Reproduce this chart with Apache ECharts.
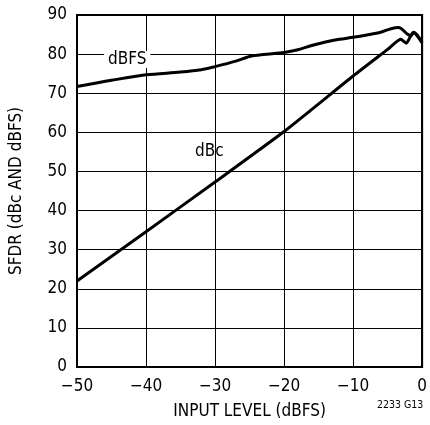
<!DOCTYPE html>
<html>
<head>
<meta charset="utf-8">
<script src="https://cdn.jsdelivr.net/npm/echarts@6/dist/echarts.min.js"></script>
<style>
  html, body { margin: 0; padding: 0; background: #fff; }
  #chart { width: 430px; height: 425px; }
</style>
</head>
<body>
<div id="chart"></div>
<script>
// x ticks / y ticks
var xTicks = [-50, -40, -30, -20, -10, 0];
var yTicks = [0, 10, 20, 30, 40, 50, 60, 70, 80, 90];

// dBFS curve
var dbfsX = [-50, -45, -40, -35, -32, -30, -27, -25, -23, -20, -18, -16, -14, -12, -10, -8, -6, -4.5, -3.4, -2.8, -2.2, -1.6, -1.2, 0];
var dbfsY = [71.7, 73.3, 74.7, 75.4, 76.0, 76.8, 78.2, 79.4, 79.9, 80.4, 81.1, 82.2, 83.1, 83.8, 84.3, 84.9, 85.6, 86.5, 86.8, 86.2, 85.2, 84.7, 85.6, 82.9];

// dBc curve
var dbcX = [-50, -40, -30, -20, -10, -5, -3.1, -2.3, -1.3, 0];
var dbcY = [22.0, 34.6, 47.3, 60.2, 74.4, 81.2, 83.8, 82.8, 85.6, 82.9];

function pairs(xs, ys) {
  return xs.map(function (x, i) { return [x, ys[i]]; });
}

var font = '"DejaVu Sans Condensed", "Liberation Sans Narrow", sans-serif';
var myChart = echarts.init(document.getElementById('chart'));
var option = {
  animation: false,
  grid: {
    left: 73, right: 5, top: 15, bottom: 58,
    show: true, borderColor: '#000', borderWidth: 2
  },
  xAxis: {
    type: 'value', min: -50, max: 0, interval: 10,
    name: 'INPUT LEVEL (dBFS)', nameLocation: 'middle', nameGap: 36,
    nameTextStyle: { fontFamily: font, fontSize: 17, color: '#000' },
    axisLine: { show: true, lineStyle: { color: '#000', width: 2 } },
    axisTick: { show: false },
    axisLabel: {
      fontFamily: font, fontSize: 17, color: '#000', margin: 11,
      formatter: function (v) { return v < 0 ? '\u2212' + Math.abs(v) : String(v); }
    },
    splitLine: { show: true, lineStyle: { color: '#000', width: 1 } }
  },
  yAxis: {
    type: 'value', min: 0, max: 90, interval: 10,
    name: 'SFDR (dBc AND dBFS)', nameLocation: 'middle', nameGap: 52,
    nameTextStyle: { fontFamily: font, fontSize: 17, color: '#000' },
    axisLine: { show: true, lineStyle: { color: '#000', width: 2 } },
    axisTick: { show: false },
    axisLabel: { fontFamily: font, fontSize: 17, color: '#000', margin: 10 },
    splitLine: { show: true, lineStyle: { color: '#000', width: 1 } }
  },
  series: [{
    name: 'dBFS', type: 'line', smooth: 0.3, symbol: 'none',
    lineStyle: { color: '#000', width: 3 },
    data: pairs(dbfsX, dbfsY)
  }, {
    name: 'dBc', type: 'line', smooth: 0.2, symbol: 'none',
    lineStyle: { color: '#000', width: 3 },
    data: pairs(dbcX, dbcY)
  }],
  graphic: [{
    type: 'text', left: 104, top: 51, z: 100,
    style: { text: 'dBFS', fontFamily: font, fontSize: 17, fill: '#000',
      backgroundColor: '#fff', padding: [0, 4] }
  }, {
    type: 'text', left: 195, top: 143, z: 100,
    style: { text: 'dBc', fontFamily: font, fontSize: 17, fill: '#000' }
  }, {
    type: 'text', left: 377, top: 400,
    style: { text: '2233 G13', fontFamily: font, fontSize: 10.5, fill: '#000' }
  }]
};
myChart.setOption(option);
</script>
</body>
</html>
